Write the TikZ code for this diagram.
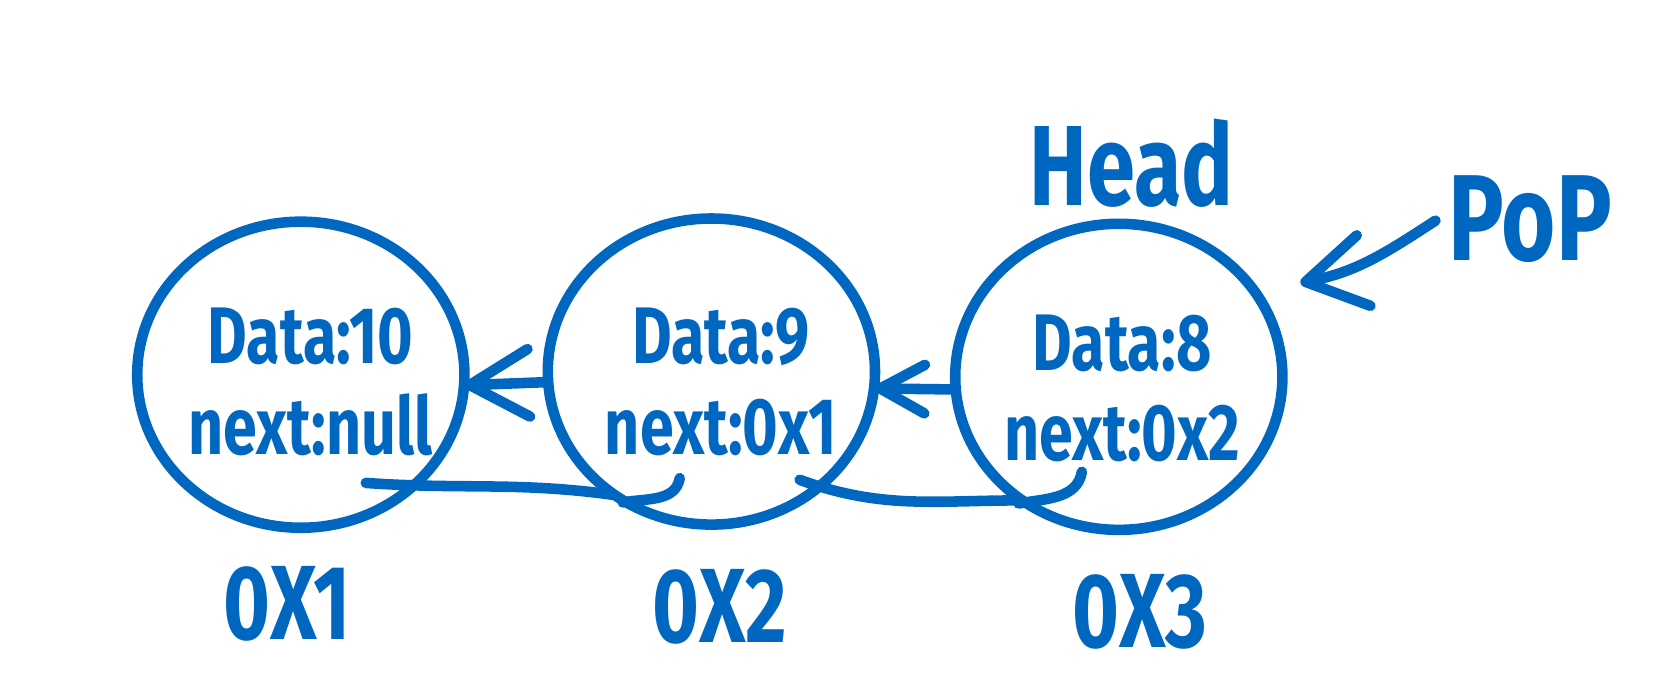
\documentclass[tikz,border=0pt]{standalone}
\usepackage{fontspec}
\setmainfont{Fira Sans}[FakeStretch=0.76]
\usetikzlibrary{shapes.geometric,arrows.meta,calc}
\definecolor{pen}{RGB}{0,103,192}
\tikzset{
	ink/.style={draw=pen,line width=5pt,line cap=round,line join=round},
	blob/.style={ink,ellipse,minimum width=155pt,minimum height=145pt,inner sep=0pt,outer sep=0pt},
	field/.style={text=pen,align=center,font=\bfseries\fontsize{38}{43}\selectfont},
	addr/.style={text=pen,font=\bfseries\fontsize{50}{50}\selectfont},
	link/.style={ink,-{Straight Barb[round,length=28pt,width=32pt]}}
}
\begin{document}
\begin{tikzpicture}[x=0.5pt,y=-0.5pt]
	\useasboundingbox (0,0) rectangle (1568,661);
	% Noder
	\node[blob] (n1) at (285,355) {};
	\node[blob] (n2) at (674,352) {};
	\node[blob] (n3) at (1060,357) {};
	\node[field] (t1) at (294,362) {Data:10\\next:null};
	\node[field] (t2) at (683,362) {Data:9\\next:0x1};
	\node[field] (t3) at (1063,368) {Data:8\\next:0x2};
	% Adresser
	\node[addr] (a1) at (272,572) {0X1};
	\node[addr] (a2) at (682,575) {0X2};
	\node[addr] (a3) at (1080,580) {0X3};
	\node[text=pen,font=\bfseries\fontsize{54}{54}\selectfont] (head) at (1072,155) {Head};
	\node[text=pen,font=\bfseries\fontsize{58}{58}\selectfont] (pop) at (1450,208) {PoP};
	% Piler
	\draw[link] ([yshift=-5pt]n2.west) -- ([yshift=-5pt]n1.east);
	\draw[link,-{Straight Barb[round,length=21pt,width=23pt]}] ([yshift=-6pt]n3.west) -- ([yshift=-8pt]n2.east);
	\coordinate (popstart) at (1360,209);
	\coordinate (poptip) at (1232,268);
	\draw[link,-{Straight Barb[round,length=28pt,width=34pt]}] (popstart) to[out=213,in=11] (poptip);
	% Streker nederst
	\draw[ink] ([xshift=-24pt]n1.south east) to[out=-4,in=172] (n2.-128);
	\draw[ink] ([xshift=-13pt]n2.south east) to[out=-20,in=180] (n3.-128);
	\draw[ink] ($(n2)+(-30,101)$) to[out=-100,in=10] ($(n2)+(-84,124)$);
	\draw[ink] ($(n3)+(-35,90)$) to[out=-100,in=10] ($(n3)+(-95,120)$);
\end{tikzpicture}
\end{document}
